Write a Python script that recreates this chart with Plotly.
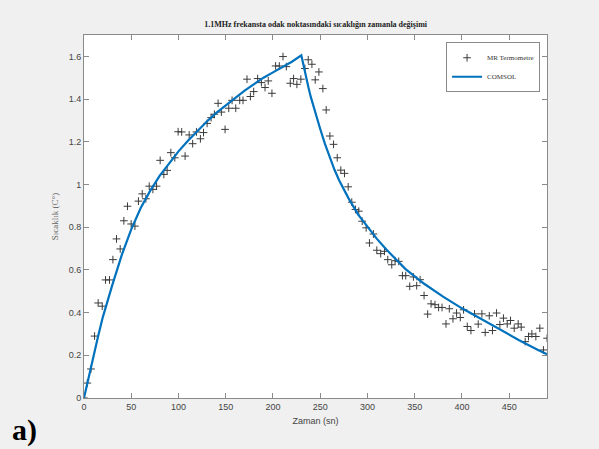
import plotly.graph_objects as go

# MR thermometry measurements (time in s, temperature change)
mr_time = [0, 3.5, 7.4, 11.2, 15.0, 19.3, 22.8, 27.0, 30.6, 34.4, 38.3, 42.2, 46.0, 49.9, 53.9,
           57.6, 61.6, 65.5, 69.0, 72.9, 76.8, 80.6, 84.5, 88.0, 91.9, 96.1, 99.6, 103.4, 107.0,
           111.3, 115.0, 119.0, 123.2, 126.5, 130.3, 134.5, 138.0, 141.9, 145.4, 149.3, 153.2,
           156.7, 160.6, 164.8, 168.3, 172.5, 176.1, 179.6, 183.8, 187.7, 191.6, 195.0, 198.9,
           202.8, 206.7, 210.6, 214.1, 218.3, 221.8, 225.3, 229.5, 233.8, 237.3, 241.2, 244.7,
           248.6, 252.8, 256.3, 260.2, 264.1, 268.0, 271.8, 275.7, 279.6, 283.4, 287.3, 290.8,
           294.4, 298.6, 302.1, 306.3, 309.9, 314.0, 318.0, 321.5, 325.7, 329.2, 333.1, 337.0,
           340.5, 344.7, 348.6, 352.1, 355.7, 359.9, 363.7, 367.3, 371.5, 375.3, 378.9, 383.1,
           386.6, 390.5, 394.3, 398.2, 401.7, 405.6, 409.5, 413.3, 417.2, 421.1, 424.6, 428.9,
           432.3, 436.6, 440.1, 443.9, 447.9, 451.4, 455.3, 459.5, 462.7, 466.9, 470.4, 474.0,
           478.2, 482.4, 486.2, 490.1]
mr_temp = [0.00, 0.07, 0.136, 0.29, 0.445, 0.43, 0.553, 0.553, 0.648, 0.745, 0.698, 0.83, 0.898,
           0.815, 0.805, 0.922, 0.956, 0.933, 0.992, 0.977, 0.992, 1.113, 1.047, 1.066, 1.149,
           1.125, 1.247, 1.246, 1.133, 1.232, 1.191, 1.246, 1.214, 1.243, 1.286, 1.313, 1.329,
           1.380, 1.339, 1.258, 1.357, 1.394, 1.357, 1.394, 1.394, 1.493, 1.412, 1.435, 1.496,
           1.477, 1.454, 1.485, 1.427, 1.555, 1.555, 1.599, 1.552, 1.474, 1.496, 1.469, 1.493,
           1.543, 1.584, 1.563, 1.490, 1.527, 1.449, 1.349, 1.227, 1.188, 1.125, 1.067, 1.052,
           0.989, 0.917, 0.883, 0.875, 0.828, 0.797, 0.726, 0.768, 0.692, 0.676, 0.687, 0.648,
           0.624, 0.643, 0.640, 0.573, 0.573, 0.523, 0.567, 0.526, 0.554, 0.480, 0.393, 0.441,
           0.437, 0.424, 0.424, 0.347, 0.418, 0.371, 0.398, 0.377, 0.413, 0.335, 0.316, 0.394,
           0.346, 0.394, 0.307, 0.385, 0.316, 0.398, 0.344, 0.374, 0.347, 0.363, 0.327, 0.347,
           0.332, 0.264, 0.288, 0.300, 0.288, 0.327, 0.225, 0.280]

# COMSOL simulation curve
comsol_time = [0, 5, 10, 15, 20, 25, 30, 40, 50, 60, 70, 80, 90, 100, 110, 120, 130, 140, 150,
               160, 170, 180, 190, 200, 210, 220, 230, 232.5, 235, 237.5, 240, 242.5, 245, 250,
               255, 260, 265, 270, 275, 280, 290, 300, 310, 320, 340, 360, 380, 400, 420, 440,
               460, 480, 490]
comsol_temp = [0.0, 0.10, 0.19, 0.29, 0.38, 0.46, 0.53, 0.67, 0.79, 0.89, 0.97, 1.04, 1.10, 1.155,
               1.205, 1.25, 1.295, 1.335, 1.37, 1.405, 1.44, 1.47, 1.50, 1.525, 1.55, 1.575, 1.605,
               1.55, 1.50, 1.455, 1.41, 1.37, 1.33, 1.26, 1.19, 1.125, 1.07, 1.02, 0.975, 0.935,
               0.86, 0.80, 0.745, 0.695, 0.605, 0.535, 0.475, 0.42, 0.37, 0.32, 0.272, 0.226, 0.205]

x_ticks = [0, 50, 100, 150, 200, 250, 300, 350, 400, 450]
y_ticks = [0, 0.2, 0.4, 0.6, 0.8, 1, 1.2, 1.4, 1.6]
y_tick_text = ["0", "0.2", "0.4", "0.6", "0.8", "1", "1.2", "1.4", "1.6"]

fig = go.Figure()
fig.add_trace(go.Scatter(
    x=mr_time, y=mr_temp, mode="markers", name="MR Termometre",
    marker=dict(symbol="cross-thin", size=5.5, color="#3a3a3a",
                line=dict(width=1, color="#3a3a3a")),
))
fig.add_trace(go.Scatter(
    x=comsol_time, y=comsol_temp, mode="lines", name="COMSOL",
    line=dict(color="#0072BD", width=2.2),
))

axis_common = dict(
    showgrid=False, zeroline=False, showline=True, linecolor="#8a8a8a", linewidth=1,
    mirror="ticks", ticks="inside", ticklen=5, tickcolor="#8a8a8a",
    tickfont=dict(family="Liberation Sans Narrow, Liberation Sans, Arial", size=9, color="#444444"),
)

fig.update_layout(
    width=599, height=449,
    paper_bgcolor="#f0f0f0", plot_bgcolor="white",
    margin=dict(l=84, r=52, t=35, b=51),
    title=dict(text="<b>1.1MHz frekansta odak noktasındaki sıcaklığın zamanla değişimi</b>",
               x=0.527, xanchor="center", y=1 - 24 / 449, yanchor="middle",
               font=dict(family="Liberation Sans Narrow, Liberation Serif", size=8, color="#222222")),
    xaxis=dict(range=[0, 490], tickvals=x_ticks,
               title=dict(text="Zaman (sn)", standoff=6,
                          font=dict(family="Liberation Sans Narrow, Liberation Sans", size=9, color="#444444")),
               **axis_common),
    yaxis=dict(range=[0, 1.7], tickvals=y_ticks, ticktext=y_tick_text,
               title=dict(text="Sıcaklık (C°)", standoff=8,
                          font=dict(family="Liberation Serif", size=9, color="#666666")),
               **axis_common),
    legend=dict(x=0.985, y=0.98, xanchor="right", yanchor="top",
                bgcolor="white", bordercolor="#8a8a8a", borderwidth=1,
                font=dict(family="Liberation Serif", size=7, color="#333333"),
                itemwidth=30, tracegroupgap=0),
    showlegend=True,
    annotations=[dict(text="<b>a)</b>", xref="paper", yref="paper",
                      x=-0.16, y=-0.035, xanchor="left", yanchor="top", showarrow=False,
                      font=dict(family="Liberation Serif", size=30, color="black"))],
)

fig.write_html("out.html")
